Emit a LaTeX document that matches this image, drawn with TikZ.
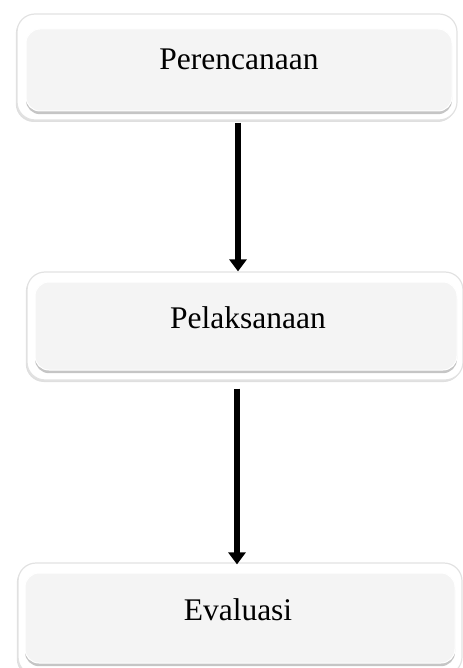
\documentclass[tikz,border=0pt]{standalone}
\usepackage{fontspec}
\setmainfont{Liberation Serif}
\usepackage {tikz}
\usetikzlibrary {positioning}
\usetikzlibrary{shadows}
\usetikzlibrary{arrows.meta}
\definecolor{boxfill}{HTML}{F4F4F4}
\definecolor{rimline}{HTML}{E2E2E2}
\tikzset{
    frame/.style = {rectangle,rounded corners=9pt,fill=white,draw=rimline,line width=0.6pt,
        drop shadow={shadow xshift=-0.6pt,shadow yshift=-1pt,opacity=0.25}},
    panel/.style = {rectangle,rounded corners=7pt,fill=boxfill,draw=white,line width=0.5pt,
        drop shadow={shadow xshift=0pt,shadow yshift=-1.6pt,opacity=0.45}},
    label/.style = {anchor=base,font=\fontsize{15.75}{18}\selectfont},
    flow/.style = {line width=3pt,-{Triangle[width=8.5pt,length=6pt]}}}
\begin{document}
\begin{tikzpicture}[x=0.5pt,y=-0.5pt]
    \useasboundingbox (0,0) rectangle (462,668);
    % plan
    \node[frame,minimum width=220pt,minimum height=53pt] (plan) at (237,67) {};
    \node[panel,minimum width=213pt,minimum height=41pt] (planbox) at (239,70) {};
    \node[label] (plantext) at (239,70) {Perencanaan};
    % do
    \node[frame,minimum width=218pt,minimum height=54pt] (exec) at (245,326) {};
    \node[panel,minimum width=211pt,minimum height=44pt] (execbox) at (246,326) {};
    \node[label] (exectext) at (248,328) {Pelaksanaan};
    % check
    \node[frame,minimum width=222pt,minimum height=56pt] (eval) at (240,619) {};
    \node[panel,minimum width=215pt,minimum height=45pt] (evalbox) at (240,618) {};
    \node[label] (evaltext) at (238,620) {Evaluasi};
    \draw[flow,shorten <=1pt] (238,0 |- plan.south) coordinate (a0) -- (a0 |- exec.north);
    \draw[flow,shorten <=4pt,shorten >=-1pt] (237,0 |- exec.south) coordinate (b0) -- (b0 |- eval.north);
\end{tikzpicture}
\end{document}
